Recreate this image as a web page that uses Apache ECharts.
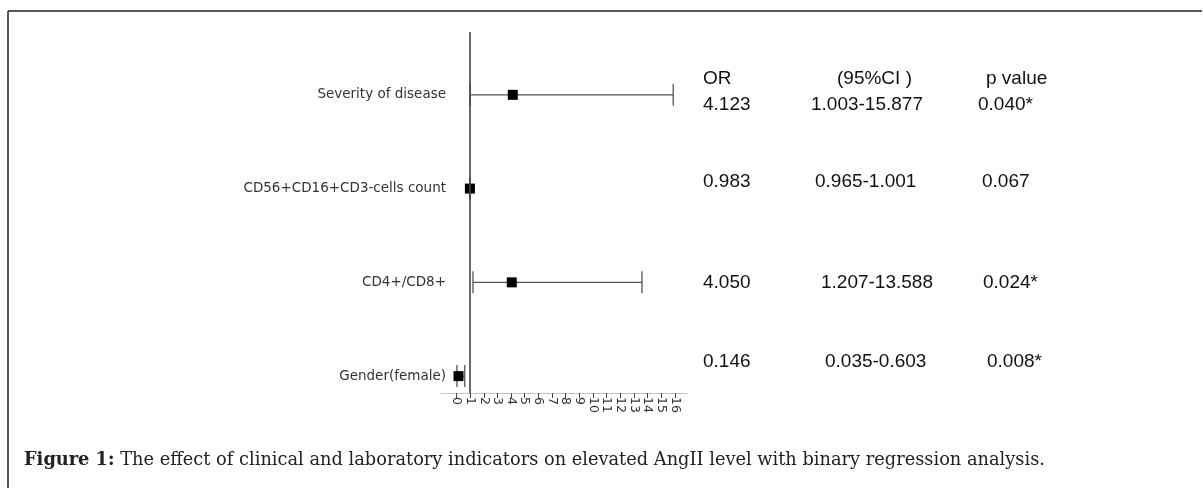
<!DOCTYPE html>
<html>
<head>
<meta charset="utf-8">
<script src="https://cdn.jsdelivr.net/npm/echarts@6/dist/echarts.min.js"></script>
<style>
  html, body { margin: 0; padding: 0; background: #fff; }
  #chart { width: 1203px; height: 488px; }
</style>
</head>
<body>
<div id="chart"></div>
<script>
// rows, bottom to top
const categories = ['Gender(female)', 'CD4+/CD8+', 'CD56+CD16+CD3-cells count', 'Severity of disease']
const rowPos = [1, 2, 3, 4]
const orValues = [0.146, 4.050, 0.983, 4.123]
const ciLower = [0.035, 1.207, 0.965, 1.003]
const ciUpper = [0.603, 13.588, 1.001, 15.877]
const pValues = ['0.008*', '0.024*', '0.067', '0.040*']
const xTicks = [0, 1, 2, 3, 4, 5, 6, 7, 8, 9, 10, 11, 12, 13, 14, 15, 16]
const tableHeader = ['OR', '(95%CI )', 'p value']
const captionLead = 'Figure 1:'
const captionText = ' The effect of clinical and laboratory indicators on elevated AngII level with binary regression analysis.'

// table layout: left x of each column per row (bottom to top), centre y per row
const headerY = 79
const headerX = [703, 837, 986]
const tableY = [362, 283, 182, 105]
const colOR = [703, 703, 703, 703]
const colCI = [825, 821, 815, 811]
const colP = [987, 983, 982, 978]
const tableFont = '19px "Liberation Sans", Arial, sans-serif'

const chart = echarts.init(document.getElementById('chart'))

function tableText(x, y, text) {
  return { type: 'text', x, y, style: { text, font: tableFont, fill: '#111', verticalAlign: 'middle' } }
}

const tableGraphics = tableHeader.map((h, k) => tableText(headerX[k], headerY, h))
categories.forEach((c, i) => {
  tableGraphics.push(
    tableText(colOR[i], tableY[i], orValues[i].toFixed(3)),
    tableText(colCI[i], tableY[i], ciLower[i].toFixed(3) + '-' + ciUpper[i].toFixed(3)),
    tableText(colP[i], tableY[i], pValues[i])
  )
})

chart.setOption({
  animation: false,
  backgroundColor: '#fff',
  grid: {
    left: 441,
    right: 516,
    top: 32,
    bottom: 95,
    containLabel: false,
    outerBoundsMode: 'none'
  },
  xAxis: {
    type: 'value',
    min: -1.135,
    max: 16.886,
    splitLine: { show: false },
    axisLine: { show: true, lineStyle: { color: '#c4c4c4', width: 1 } },
    axisTick: {
      show: true,
      customValues: xTicks,
      length: 5,
      lineStyle: { color: '#444', width: 1 }
    },
    axisLabel: {
      customValues: xTicks,
      rotate: -90,
      margin: 4,
      fontSize: 12.5,
      fontFamily: '"DejaVu Sans", sans-serif',
      color: '#333'
    }
  },
  yAxis: {
    type: 'value',
    min: 0.82,
    max: 4.67,
    splitLine: { show: false },
    axisLine: { show: false },
    axisTick: { show: false },
    axisLabel: {
      customValues: rowPos,
      margin: -5,
      fontSize: 13.5,
      fontFamily: '"DejaVu Sans", sans-serif',
      color: '#333',
      padding: [3, 0, 0, 0],
      formatter: (v) => categories[rowPos.indexOf(v)] || ''
    }
  },
  series: [
    {
      type: 'custom',
      silent: true,
      data: categories.map((c, i) => [ciLower[i], ciUpper[i], rowPos[i]]),
      renderItem: (params, api) => {
        const p1 = api.coord([api.value(0), api.value(2)])
        const p2 = api.coord([api.value(1), api.value(2)])
        const cap = 11
        const style = { stroke: '#555', lineWidth: 1.3 }
        return {
          type: 'group',
          children: [
            { type: 'line', shape: { x1: p1[0], y1: p1[1], x2: p2[0], y2: p2[1] }, style },
            { type: 'line', shape: { x1: p1[0], y1: p1[1] - cap, x2: p1[0], y2: p1[1] + cap }, style },
            { type: 'line', shape: { x1: p2[0], y1: p2[1] - cap, x2: p2[0], y2: p2[1] + cap }, style }
          ]
        }
      },
      z: 2
    },
    {
      type: 'scatter',
      silent: true,
      symbol: 'rect',
      symbolSize: 10,
      itemStyle: { color: '#000', opacity: 1 },
      data: categories.map((c, i) => [orValues[i], rowPos[i]]),
      markLine: {
        silent: true,
        symbol: 'none',
        label: { show: false },
        lineStyle: { color: '#444', width: 1.6, type: 'solid', opacity: 1 },
        data: [{ xAxis: 1 }]
      },
      z: 3
    }
  ],
  graphic: [
    { type: 'line', shape: { x1: 8, y1: 11, x2: 1202, y2: 11 }, style: { stroke: '#222', lineWidth: 1.5 } },
    { type: 'line', shape: { x1: 8, y1: 11, x2: 8, y2: 488 }, style: { stroke: '#222', lineWidth: 1.5 } },
    {
      type: 'text',
      x: 24,
      y: 460,
      style: {
        text: '{b|' + captionLead + '}{r|' + captionText + '}',
        verticalAlign: 'middle',
        rich: {
          b: { font: 'bold 17.8px "DejaVu Serif", serif', fill: '#222' },
          r: { font: '17.8px "DejaVu Serif", serif', fill: '#222' }
        }
      }
    }
  ].concat(tableGraphics)
})
</script>
</body>
</html>
